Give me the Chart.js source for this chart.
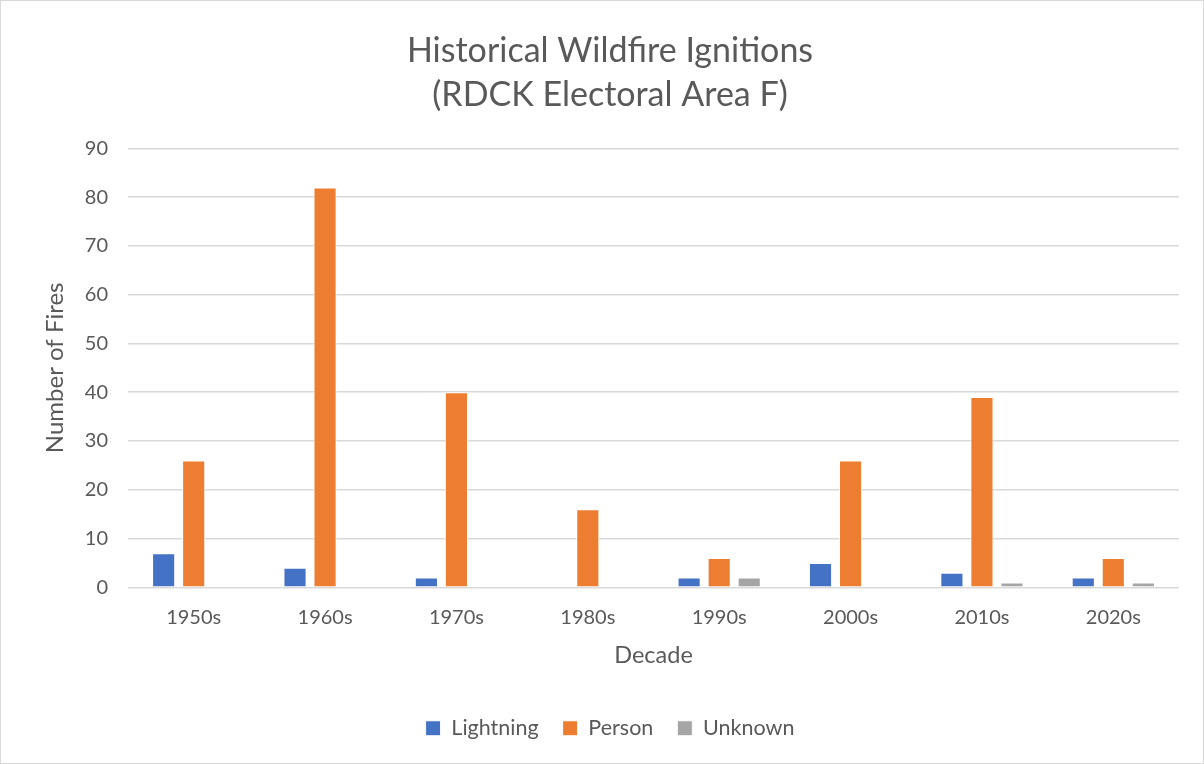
<!DOCTYPE html>
<html>
<head>
<meta charset="utf-8">
<script src="https://cdn.jsdelivr.net/npm/chart.js@4"></script>
<style>
  body { margin: 0; background: #fff; }
  #wrap { width: 1202px; height: 762px; border: 1px solid #d9d9d9; }
</style>
</head>
<body>
<div id="wrap"><canvas id="fireChart" width="1202" height="762"></canvas></div>
<script>
// data
const decades = ["1950s", "1960s", "1970s", "1980s", "1990s", "2000s", "2010s", "2020s"];
const lightning = [7, 4, 2, 0, 2, 5, 3, 2];
const person = [26, 82, 40, 16, 6, 26, 39, 6];
const unknown = [0, 0, 0, 0, 2, 0, 1, 1];

const textColor = "#595959";
const fontFamily = "Lato, 'Open Sans', sans-serif";

const ctx = document.getElementById("fireChart").getContext("2d");
new Chart(ctx, {
  type: "bar",
  data: {
    labels: decades,
    datasets: [
      { label: "Lightning", data: lightning, backgroundColor: "#4472c4", borderColor: "#ffffff", borderWidth: 1 },
      { label: "Person", data: person, backgroundColor: "#ed7d31", borderColor: "#ffffff", borderWidth: 1 },
      { label: "Unknown", data: unknown, backgroundColor: "#a5a5a5", borderColor: "#ffffff", borderWidth: 1 },
    ],
  },
  options: {
    responsive: false,
    animation: false,
    layout: { padding: { top: 28, right: 24, bottom: 14, left: 40 } },
    datasets: { bar: { categoryPercentage: 0.686, barPercentage: 0.77 } },
    plugins: {
      title: {
        display: true,
        text: ["Historical Wildfire Ignitions", "(RDCK Electoral Area F)"],
        color: textColor,
        font: { family: fontFamily, size: 34, weight: "normal", lineHeight: 1.3 },
        padding: { top: 0, bottom: 31 },
      },
      legend: {
        position: "bottom",
        labels: {
          color: textColor,
          font: { family: fontFamily, size: 21.5 },
          boxWidth: 15,
          boxHeight: 15,
          padding: 24,
        },
      },
      tooltip: { enabled: false },
    },
    scales: {
      x: {
        grid: { display: false },
        border: { display: false },
        ticks: { color: textColor, font: { family: fontFamily, size: 20 }, padding: 10 },
        title: { display: true, text: "Decade", color: textColor, font: { family: fontFamily, size: 23.5 }, padding: { top: 2, bottom: 24 } },
      },
      y: {
        min: 0,
        max: 90,
        afterFit: (scale) => { scale.width = 87; },
        ticks: { stepSize: 10, color: textColor, font: { family: fontFamily, size: 20 }, padding: 20 },
        grid: { color: "#d9d9d9", lineWidth: 1.5, drawTicks: false },
        border: { display: false },
        title: { display: true, text: "Number of Fires", color: textColor, font: { family: fontFamily, size: 24 }, padding: { top: 0, bottom: 0 } },
      },
    },
  },
});
</script>
</body>
</html>
